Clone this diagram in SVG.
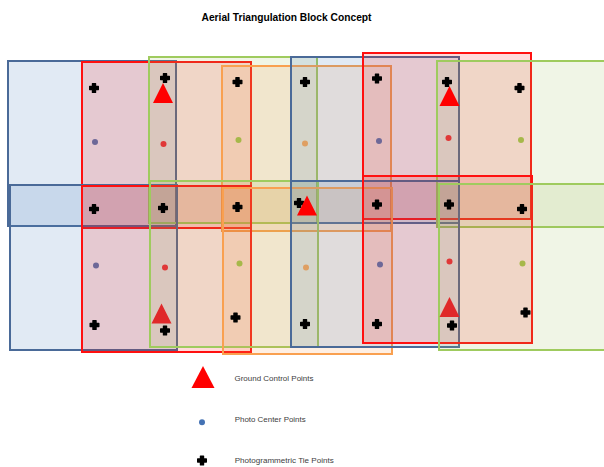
<svg xmlns="http://www.w3.org/2000/svg" xmlns:xlink="http://www.w3.org/1999/xlink" width="604" height="467" viewBox="0 0 604 467">
<style>
  .b { fill:#4f81bd; fill-opacity:.17; stroke:#4a6a98; stroke-width:2; }
  .r { fill:#ff0000; fill-opacity:.14; stroke:#ff1010; stroke-width:2; }
  .g { fill:#9bbb59; fill-opacity:.15; stroke:#9fcb5e; stroke-width:2; }
  .o { fill:#f79646; fill-opacity:.15; stroke:#f9a050; stroke-width:2; }
  .dp { fill:#6d6898; }
  .dr { fill:#e03838; }
  .dg { fill:#a6b84a; }
  .do { fill:#df9f62; }
  .title { font-family:"Liberation Sans", Arial, sans-serif; font-weight:bold; font-size:10px; fill:#000; }
  .leg { font-family:"Liberation Sans", Arial, sans-serif; font-size:8px; fill:#404040; }
</style>
<defs>
  <path id="tie" d="M-1.6,-4.4 h3.2 v2.8 h2.8 v3.2 h-2.8 v2.8 h-3.2 v-2.8 h-2.8 v-3.2 h2.8 z" fill="#000" stroke="#000" stroke-width="1.2" stroke-linejoin="round"/>
  <path id="gcp" d="M0,-10 L10,10 L-10,10 Z"/>
</defs>

<rect width="604" height="467" fill="#fff"/>

<text class="title" x="286.5" y="20.5" text-anchor="middle" textLength="170" lengthAdjust="spacingAndGlyphs">Aerial Triangulation Block Concept</text>

<!-- Top strip photo footprints -->
<g id="photo-1-1"><rect class="b" x="8" y="61" width="168" height="165"/></g>
<g id="photo-1-2"><rect class="r" x="82" y="62" width="169" height="166"/></g>
<g id="photo-1-3"><rect class="g" x="149" y="57" width="168" height="166"/></g>
<g id="photo-1-4"><rect class="o" x="222" y="66" width="169" height="165"/></g>
<g id="photo-1-5"><rect class="b" x="291" y="57" width="168" height="166"/></g>
<g id="photo-1-6"><rect class="r" x="363" y="53" width="168" height="166"/></g>
<g id="photo-1-7"><rect class="g" x="437" y="61" width="172" height="166"/></g>

<!-- Bottom strip photo footprints -->
<g id="photo-2-1"><rect class="b" x="10" y="185" width="167" height="165"/></g>
<g id="photo-2-2"><rect class="r" x="82" y="186" width="169" height="166"/></g>
<g id="photo-2-3"><rect class="g" x="150" y="181" width="168" height="166"/></g>
<g id="photo-2-4"><rect class="o" x="223" y="188" width="169" height="166"/></g>
<g id="photo-2-5"><rect class="b" x="291" y="181" width="168" height="166"/></g>
<g id="photo-2-6"><rect class="r" x="363" y="176" width="169" height="167"/></g>
<g id="photo-2-7"><rect class="g" x="439" y="184" width="170" height="166"/></g>

<!-- Photo center points -->
<g id="centers">
  <circle class="dp" cx="95" cy="142" r="3"/>
  <circle class="dr" cx="163.5" cy="144" r="3"/>
  <circle class="dg" cx="238.5" cy="140" r="3"/>
  <circle class="do" cx="305" cy="143.5" r="3"/>
  <circle class="dp" cx="379" cy="141" r="3"/>
  <circle class="dr" cx="448.5" cy="138" r="3"/>
  <circle class="dg" cx="521" cy="140" r="3"/>
  <circle class="dp" cx="96" cy="265.5" r="3"/>
  <circle class="dr" cx="165" cy="267.5" r="3"/>
  <circle class="dg" cx="239.5" cy="263.5" r="3"/>
  <circle class="do" cx="306" cy="267.5" r="3"/>
  <circle class="dp" cx="380" cy="264.5" r="3"/>
  <circle class="dr" cx="449.5" cy="261.5" r="3"/>
  <circle class="dg" cx="522.5" cy="263.5" r="3"/>
</g>

<!-- Photogrammetric tie points -->
<g id="tie-points">
  <use xlink:href="#tie" x="94" y="88"/>
  <use xlink:href="#tie" x="165" y="78"/>
  <use xlink:href="#tie" x="237.5" y="82"/>
  <use xlink:href="#tie" x="305" y="82"/>
  <use xlink:href="#tie" x="377" y="78.5"/>
  <use xlink:href="#tie" x="447" y="82"/>
  <use xlink:href="#tie" x="519.5" y="88"/>
  <use xlink:href="#tie" x="94" y="209"/>
  <use xlink:href="#tie" x="163" y="208"/>
  <use xlink:href="#tie" x="237.5" y="207"/>
  <use xlink:href="#tie" x="299" y="203"/>
  <use xlink:href="#tie" x="377" y="204.5"/>
  <use xlink:href="#tie" x="449" y="204.5"/>
  <use xlink:href="#tie" x="522" y="209"/>
  <use xlink:href="#tie" x="94.5" y="325"/>
  <use xlink:href="#tie" x="165" y="330.5"/>
  <use xlink:href="#tie" x="235.5" y="317.5"/>
  <use xlink:href="#tie" x="305" y="324"/>
  <use xlink:href="#tie" x="377" y="324"/>
  <use xlink:href="#tie" x="452" y="325.5"/>
  <use xlink:href="#tie" x="525.5" y="312.5"/>
</g>

<!-- Ground control points -->
<g id="ground-control">
  <use xlink:href="#gcp" x="163" y="93" fill="#ff0000"/>
  <use xlink:href="#gcp" x="449.5" y="96" fill="#ff0000"/>
  <use xlink:href="#gcp" x="307" y="205.5" fill="#ff0000"/>
  <use xlink:href="#gcp" x="161.5" y="313.5" fill="#e0282a"/>
  <use xlink:href="#gcp" x="449.5" y="307" fill="#e0282a"/>
</g>

<!-- Legend -->
<g id="legend-gcp">
  <path d="M203,366 L214.5,388 L191.5,388 Z" fill="#ff0000"/>
  <text class="leg" x="234.5" y="380.5" textLength="79" lengthAdjust="spacingAndGlyphs">Ground Control Points</text>
</g>
<g id="legend-center">
  <circle cx="202" cy="422.3" r="3" fill="#4472b4"/>
  <text class="leg" x="234.7" y="421.5" textLength="71" lengthAdjust="spacingAndGlyphs">Photo Center Points</text>
</g>
<g id="legend-tie">
  <use xlink:href="#tie" x="202" y="460.5"/>
  <text class="leg" x="234.7" y="463" textLength="99" lengthAdjust="spacingAndGlyphs">Photogrammetric Tie Points</text>
</g>
</svg>
